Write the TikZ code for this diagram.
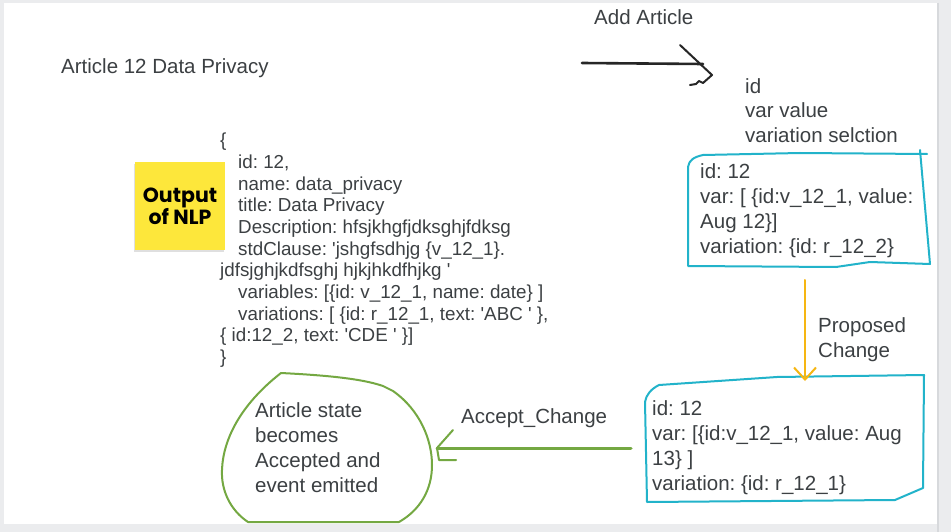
\documentclass[tikz,border=0pt]{standalone}
\usepackage{fontspec}
\setmainfont{Liberation Sans}
\newfontfamily\stickyfont{Poppins}
\usetikzlibrary{arrows.meta,positioning,shadows}

\definecolor{inkgray}{HTML}{3C4043}
\definecolor{pagegray}{HTML}{EBECEE}
\definecolor{gutterline}{HTML}{D7D9DC}
\definecolor{boxcyan}{HTML}{22B3CA}
\definecolor{blobgreen}{HTML}{74A842}
\definecolor{changeyellow}{HTML}{F6B612}
\definecolor{stickyyellow}{HTML}{FDE73B}
\newcommand{\sq}{\textquotesingle}
\frenchspacing

\begin{document}
\begin{tikzpicture}[x=1pt,y=-1pt,
    label text/.style={text=inkgray,inner sep=0pt,anchor=base west,font=\fontsize{20.5}{25}\selectfont},
    multi text/.style={label text,align=left},
    json text/.style={multi text,font=\fontsize{18.8}{21.7}\selectfont},
    sticky/.style={fill=stickyyellow,minimum width=90pt,minimum height=88pt,inner sep=0pt,align=center,
                   font=\stickyfont\bfseries\fontsize{20.5}{22}\selectfont,text=black,
                   drop shadow={shadow xshift=-1pt,shadow yshift=-2pt,opacity=.25}},
    cyan sketch/.style={draw=boxcyan,line width=2pt,line join=round,line cap=round},
    green sketch/.style={draw=blobgreen,line width=2pt,line join=round,line cap=round},
    ink sketch/.style={draw=black!85,line width=2pt,line join=round,line cap=round},
    change sketch/.style={draw=changeyellow,line width=2pt,line cap=round}]

% page
\path[use as bounding box,fill=pagegray] (0,0) rectangle (951,532);
\fill[white] (4,3) rectangle (937,524);
\draw[gutterline,line width=1.5pt] (938,3) -- (938,532);

% texts (multi line nodes sit on the baseline of their last line)
\node[label text] (addlabel) at (594,25) {Add Article};
\node[label text] (articletitle) at (61,74) {Article 12 Data Privacy};
\node[multi text] (fields) at (745,143) {id\\var value\\variation selction};
\node[sticky] (nlpnote) at (180,206) {Output\\of NLP};
\node[json text] (nlpjson) at (220,363.6) {\{\\
  \hspace*{18pt}id: 12,\\
  \hspace*{18pt}name: data\_privacy\\
  \hspace*{18pt}title: Data Privacy\\
  \hspace*{18pt}Description: hfsjkhgfjdksghjfdksg\\
  \hspace*{18pt}stdClause: \sq jshgfsdhjg \{v\_12\_1\}.\\
  jdfsjghjkdfsghj hjkjhkdfhjkg \sq\\
  \hspace*{18pt}variables: [\{id: v\_12\_1, name: date\} ]\\
  \hspace*{18pt}variations: [ \{id: r\_12\_1, text: \sq ABC \sq\ \},\\
  \{ id:12\_2, text: \sq CDE \sq\ \}]\\
  \}};
\node[multi text] (proposedvals) at (700,253) {id: 12\\var: [ \{id:v\_12\_1, value:\\Aug 12\}]\\variation: \{id: r\_12\_2\}};
\node[multi text] (proposedlabel) at (818,357) {Proposed\\Change};
\node[multi text] (changedvals) at (652,490) {id: 12\\var: [\{id:v\_12\_1, value: Aug\\13\} ]\\variation: \{id: r\_12\_1\}};
\node[label text] (acceptlabel) at (461,423) {Accept\_Change};
\node[multi text] (acceptedstate) at (255,492) {Article state\\becomes\\Accepted and\\event emitted};

% hand drawn outlines
\draw[cyan sketch] (920,150) -- (930,264) -- (870,262) -- (836,267) -- (688,266) -- (688,167)
  .. controls (689,160) and (694,157) .. (703,155) -- (800,153) -- (927,154);
\draw[cyan sketch] (659,385) -- (777,377) -- (924,375) -- (923,488) -- (895,500) -- (647,502) -- (645,402)
  .. controls (646,395) and (651,389) .. (659,385);
\draw[green sketch] (399,522) -- (248,522) .. controls (230,510) and (221,490) .. (222,470)
  .. controls (223,440) and (240,405) .. (281,373) .. controls (320,375) and (360,378) .. (383,386)
  -- (393,391) .. controls (420,410) and (432,440) .. (432,465) .. controls (432,490) and (420,510) .. (399,522);

% arrows
\coordinate (addfrom) at (582,63);
\coordinate (addto) at (703,64);
\draw[ink sketch,line width=2.6pt] (addfrom) -- (addto);
\draw[ink sketch] (addto) ++(-23,-19) -- ++(32,30) -- ++(-9,8) -- ++(-4,-2) -- ++(-3,3) -- ++(-6,1);

\coordinate (propfrom) at (805,280);
\coordinate (propto) at (805,381);
\draw[change sketch,-{Straight Barb[length=12pt,width=22pt]}] (propfrom) -- (propto);

\coordinate (acceptfrom) at (631,448);
\coordinate (acceptto) at (437,448);
\draw[green sketch,line width=3pt] (acceptfrom) -- (acceptto);
\draw[green sketch] (acceptto) ++(16,-18) -- (acceptto) -- ++(2,12) -- ++(17,0);
\end{tikzpicture}
\end{document}
